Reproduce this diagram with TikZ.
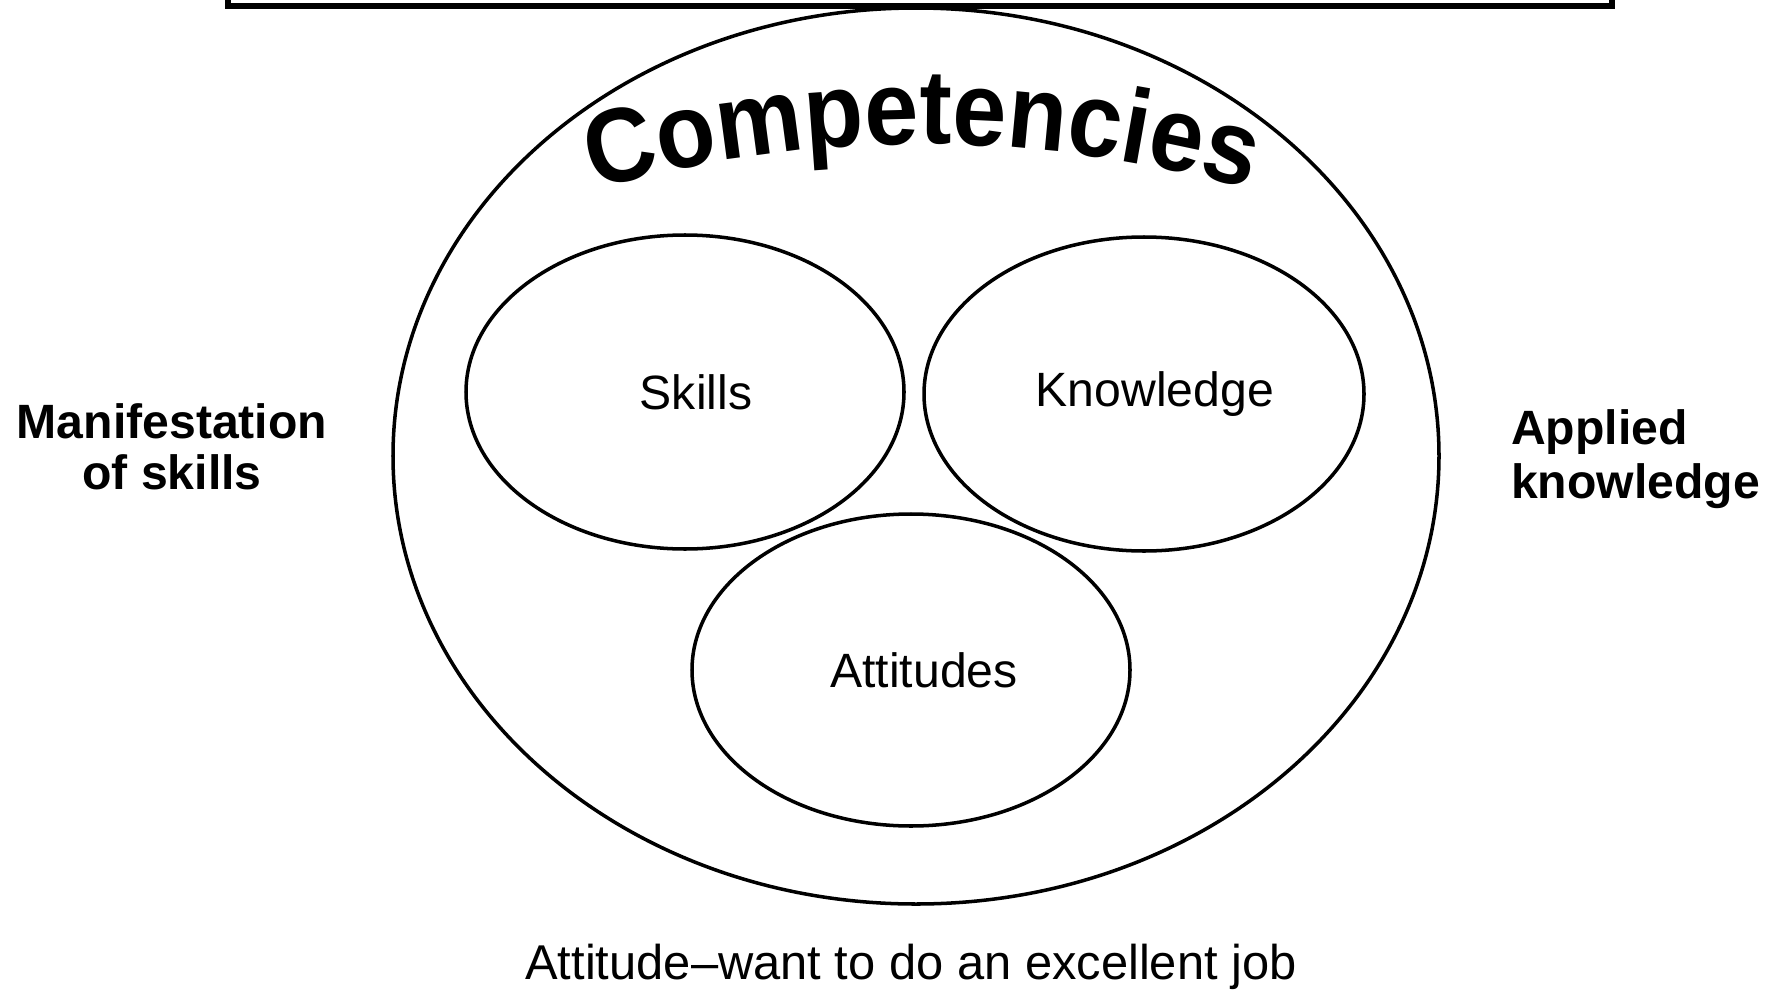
\documentclass[tikz,border=0pt]{standalone}
\usepackage{fontspec}
\setmainfont{Liberation Sans}
\newfontfamily\arcfont[FakeStretch=0.92]{Liberation Sans Bold}
\usepackage{tikz}
\usetikzlibrary{positioning}
\usetikzlibrary{shapes}
\usetikzlibrary{decorations.text}
\tikzset{every picture/.style={semithick}}
\tikzset{oval/.style={ellipse, draw=black, line width=1pt, inner sep=0pt}}
\tikzset{lbl/.style={font=\fontsize{13.7}{14.5}\selectfont, inner sep=0pt}}
\tikzset{side/.style={font=\fontsize{13.7}{14.5}\selectfont\bfseries, inner sep=0pt}}

\begin{document}
\begin{tikzpicture}[x=1cm, y=1cm]
        \clip (0,0) rectangle (17.72,9.89);
        \draw[line width=1.5pt] (2.28,9.83) rectangle (16.12,10.5);
        \node[oval, minimum width=10.46cm, minimum height=8.96cm] (comp) at (9.16,5.33) {};
        \node[oval, minimum width=4.38cm, minimum height=3.14cm] (skills) at (6.85,5.97) {};
        \node[oval, minimum width=4.40cm, minimum height=3.14cm] (know) at (11.44,5.95) {};
        \node[oval, minimum width=4.38cm, minimum height=3.12cm] (att) at (9.11,3.19) {};
        \node[lbl] (skillstxt) at ([xshift=0.11cm]skills) {Skills};
        \node[lbl] (knowtxt) at ([xshift=0.11cm]know) {Knowledge};
        \node[lbl] (atttxt) at ([xshift=0.13cm]att) {Attitudes};
        \coordinate (arcc) at (9.22,-3.55);
        \path[decorate, decoration={text along path, text align=center,
            text={|\fontsize{30}{30}\arcfont|Competencies}}]
            ([shift={(112:12)}]arcc) arc[start angle=112, end angle=68, radius=12];
        \node[side, align=center] (manif) at (1.72,5.42) {Manifestation\\of skills};
        \node[side, align=left, anchor=west, font=\fontsize{13.7}{15.2}\selectfont\bfseries] (applied) at (15.10,5.30) {Applied\\knowledge};
        \node[lbl, font=\fontsize{13.9}{14.5}\selectfont] (attjob) at (9.11,0.22) {Attitude–want to do an excellent job};
    \end{tikzpicture}
\end{document}
